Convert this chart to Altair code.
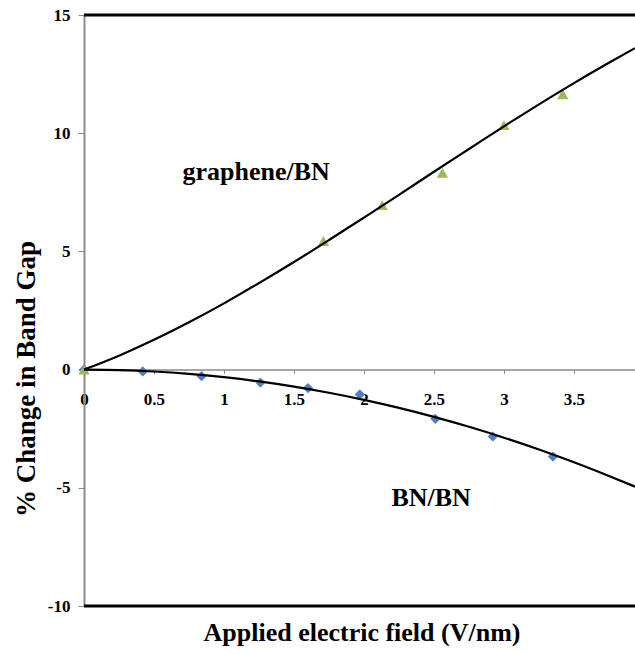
import altair as alt
import pandas as pd

# Data points
field_graphene = [0, 1.71, 2.13, 2.56, 3.0, 3.42]
gap_graphene = [0, 5.44, 6.96, 8.32, 10.34, 11.65]

field_bn = [0, 0.42, 0.84, 1.26, 1.6, 1.97, 2.51, 2.92, 3.35]
gap_bn = [0, -0.08, -0.28, -0.55, -0.78, -1.05, -2.08, -2.83, -3.68]

# Trend curves
curve_x = [0, 0.25, 0.5, 0.75, 1.0, 1.25, 1.5, 1.75, 2.0, 2.25, 2.5, 2.75, 3.0, 3.25, 3.5, 3.75, 3.936]
curve_graphene = [0, 0.59, 1.26, 2.0, 2.8, 3.66, 4.55, 5.48, 6.43, 7.39, 8.37, 9.33, 10.29, 11.22, 12.12, 12.98, 13.6]
curve_bn = [0, -0.02, -0.08, -0.18, -0.32, -0.5, -0.72, -0.98, -1.28, -1.62, -2.0, -2.42, -2.88, -3.38, -3.92, -4.5, -4.95]

x_ticks = [0, 0.5, 1, 1.5, 2, 2.5, 3, 3.5]
y_ticks = [-10, -5, 0, 5, 10, 15]

labels = ["graphene/BN", "BN/BN"]
label_x = [1.23, 2.48]
label_y = [8.0, -5.78]

FONT = "Liberation Serif"
XMAX = 3.936

pts_g = pd.DataFrame({"x": field_graphene, "y": gap_graphene})
pts_b = pd.DataFrame({"x": field_bn, "y": gap_bn})
curves = pd.DataFrame({"x": curve_x * 2,
                       "y": curve_graphene + curve_bn,
                       "s": ["g"] * len(curve_x) + ["b"] * len(curve_x)})
frame = pd.DataFrame({"y": [15, -10]})
lab = pd.DataFrame({"t": labels, "x": label_x, "y": label_y})

xs = alt.Scale(domain=[0, XMAX], nice=False, zero=False)
ys = alt.Scale(domain=[-10, 15], nice=False)

x_axis = alt.Axis(values=x_ticks, format="~g", grid=False, offset=-236.4,
                  domainColor="#8a8a8a", domainWidth=1.5, tickColor="#8a8a8a",
                  tickSize=4, labelPadding=18, labelFlush=False, labelFont=FONT,
                  labelFontWeight="bold", labelFontSize=17, labelColor="black", title=None)
y_axis = alt.Axis(values=y_ticks, grid=False, domainColor="#8a8a8a", domainWidth=2,
                  tickColor="#8a8a8a", tickSize=6, labelPadding=8, labelFont=FONT,
                  labelFontWeight="bold", labelFontSize=17, labelColor="black",
                  labelFlush=False,
                  labelExpr="datum.value < 0 ? '-' + abs(datum.value) : datum.label",
                  title=None)

frame_rules = alt.Chart(frame).mark_rule(color="black", strokeWidth=3).encode(
    y=alt.Y("y:Q", scale=ys, axis=y_axis)
)

axes_layer = alt.Chart(pts_b).mark_point(opacity=0).encode(
    x=alt.X("x:Q", scale=xs, axis=x_axis),
    y=alt.Y("y:Q", scale=ys, axis=y_axis),
)

diamonds = alt.Chart(pts_b).mark_point(shape="diamond", filled=True, color="#4F81BD",
                                        size=105, opacity=1).encode(
    x=alt.X("x:Q", scale=xs), y=alt.Y("y:Q", scale=ys)
)
triangles = alt.Chart(pts_g).mark_point(shape="triangle-up", filled=True, color="#9BBB59",
                                         size=130, opacity=1).encode(
    x=alt.X("x:Q", scale=xs), y=alt.Y("y:Q", scale=ys)
)
lines = alt.Chart(curves).mark_line(color="black", strokeWidth=2.2, interpolate="monotone").encode(
    x=alt.X("x:Q", scale=xs), y=alt.Y("y:Q", scale=ys), detail="s:N"
)
texts = alt.Chart(lab).mark_text(font=FONT, fontWeight="bold", fontSize=26,
                                 color="black", align="center", baseline="alphabetic").encode(
    x=alt.X("x:Q", scale=xs), y=alt.Y("y:Q", scale=ys), text="t:N"
)

ytitle = alt.Chart(pd.DataFrame({"t": ["% Change in Band Gap"]})).mark_text(
    font=FONT, fontWeight="bold", fontSize=27, color="black", angle=270,
    align="center", baseline="middle"
).encode(x=alt.value(-57), y=alt.value(364), text="t:N")

xtitle = alt.Chart(pd.DataFrame({"t": ["Applied electric field (V/nm)"]})).mark_text(
    font=FONT, fontWeight="bold", fontSize=26, color="black",
    align="center", baseline="middle"
).encode(x=alt.value(278), y=alt.value(618), text="t:N")

chart = alt.layer(axes_layer, frame_rules, diamonds, triangles, lines, texts, ytitle, xtitle).properties(
    width=551, height=591,
    autosize=alt.AutoSizeParams(type="none"),
    padding={"left": 84, "top": 15, "right": 0, "bottom": 48},
).configure_view(stroke=None).configure(background="white")

chart.save("out.html", embed_options={"renderer": "svg", "actions": False})
